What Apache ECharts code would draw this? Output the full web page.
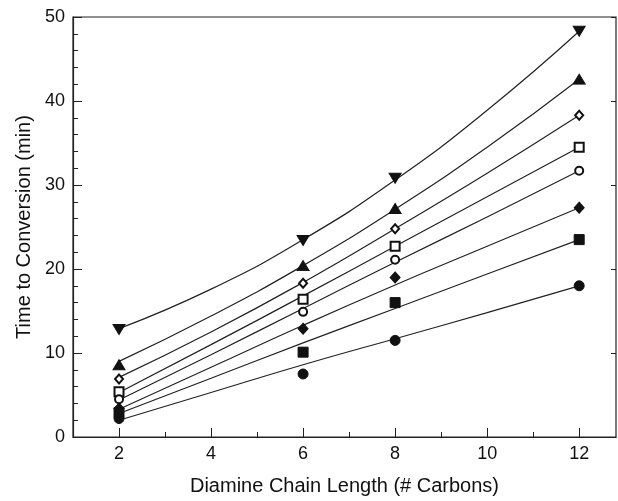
<!DOCTYPE html>
<html>
<head>
<meta charset="utf-8">
<script src="https://cdn.jsdelivr.net/npm/echarts@6/dist/echarts.min.js"></script>
<style>
  html, body { margin: 0; padding: 0; background: #fff; }
  #chart { width: 618px; height: 501px; }
</style>
</head>
<body>
<div id="chart"></div>
<script>
// measured x positions (carbons)
var xPoints = [2, 6, 8, 12];
var xFit = [2, 4, 6, 8, 10, 12];
var xMajor = [2, 4, 6, 8, 10, 12];
var xMinor = [3, 5, 7, 9, 11];

// measured points, top to bottom
var triDown = [12.8, 23.4, 30.8, 48.3];
var triUp = [8.6, 20.4, 27.2, 42.6];
var openDiamond = [6.9, 18.3, 24.8, 38.3];
var openSquare = [5.4, 16.4, 22.7, 34.5];
var openCircle = [4.5, 14.9, 21.1, 31.7];
var fillDiamond = [3.4, 12.9, 19.0, 27.3];
var fillSquare = [2.9, 10.1, 16.0, 23.5];
var fillCircle = [2.2, 7.5, 11.5, 18.0];

// fitted curves at xFit
var fitTriDown = [12.9, 17.6, 23.5, 30.6, 38.9, 48.3];
var fitTriUp = [9.0, 14.4, 20.4, 27.1, 34.5, 42.6];
var fitOpenDiamond = [7.1, 12.5, 18.4, 24.8, 31.4, 38.3];
var fitOpenSquare = [5.3, 11.0, 16.8, 22.7, 28.6, 34.5];
var fitOpenCircle = [4.4, 9.8, 15.3, 20.8, 26.2, 31.7];
var fitFillDiamond = [3.3, 8.3, 13.3, 18.1, 22.7, 27.3];
var fitFillSquare = [2.8, 7.0, 11.2, 15.3, 19.4, 23.5];
var fitFillCircle = [2.0, 5.3, 8.6, 11.7, 14.8, 18.0];

function pairs(xs, ys) {
  return xs.map(function (x, i) { return [x, ys[i]]; });
}

var ink = '#111';
var fits = [fitTriDown, fitTriUp, fitOpenDiamond, fitOpenSquare, fitOpenCircle, fitFillDiamond, fitFillSquare, fitFillCircle];
var marks = [
  { d: triDown, symbol: 'triangle', size: [12, 10], rot: 180 },
  { d: triUp, symbol: 'triangle', size: [12, 10], rot: 0 },
  { d: openDiamond, symbol: 'emptyDiamond', size: [8, 9], rot: 0 },
  { d: openSquare, symbol: 'emptyRect', size: 9, rot: 0 },
  { d: openCircle, symbol: 'emptyCircle', size: 8, rot: 0 },
  { d: fillDiamond, symbol: 'diamond', size: [10, 11], rot: 0 },
  { d: fillSquare, symbol: 'rect', size: 10, rot: 0 },
  { d: fillCircle, symbol: 'circle', size: 10, rot: 0 }
];

var series = [];
fits.forEach(function (f) {
  series.push({
    type: 'line', smooth: 0.5, smoothMonotone: 'none', symbol: 'none', silent: true,
    data: pairs(xFit, f),
    lineStyle: { color: '#222', width: 1.2 }, z: 2
  });
});
marks.forEach(function (m) {
  series.push({
    type: 'scatter', data: pairs(xPoints, m.d),
    symbol: m.symbol, symbolSize: m.size, symbolRotate: m.rot,
    itemStyle: { color: ink, opacity: 1, borderColor: m.symbol.indexOf('empty') === 0 ? '#333' : ink, borderWidth: 1 },
    z: 3
  });
});

var myChart = echarts.init(document.getElementById('chart'));
var option = {
  animation: false,
  backgroundColor: '#fff',
  grid: { left: 73, right: 2, top: 17, bottom: 60, show: true, borderColor: '#222', borderWidth: 1.2 },
  xAxis: [{
    type: 'value', min: 1, max: 12.8, position: 'bottom',
    name: 'Diamine Chain Length (# Carbons)', nameLocation: 'middle', nameGap: 39,
    nameTextStyle: { fontFamily: 'Liberation Sans', fontSize: 20, color: ink },
    axisLine: { show: true, lineStyle: { color: '#222', width: 1.2 } },
    axisTick: { inside: true, length: 9, customValues: xMajor, lineStyle: { color: '#222' } },
    axisLabel: { customValues: xMajor, margin: 8, fontFamily: 'Liberation Sans', fontSize: 18, color: ink },
    splitLine: { show: false }
  }, {
    type: 'value', min: 1, max: 12.8, position: 'bottom', offset: 0,
    axisLine: { show: false },
    axisTick: { inside: true, length: 5, customValues: xMinor, lineStyle: { color: '#222' } },
    axisLabel: { show: false },
    splitLine: { show: false }
  }],
  yAxis: [{
    type: 'value', min: 0, max: 50, interval: 10,
    name: 'Time to Conversion (min)', nameLocation: 'middle', nameGap: 37,
    nameTextStyle: { fontFamily: 'Liberation Sans', fontSize: 20, color: ink },
    axisLine: { show: true, lineStyle: { color: '#222', width: 1.2 } },
    axisTick: { inside: true, length: 9, lineStyle: { color: '#222' } },
    minorTick: { show: true, splitNumber: 5, length: 5, lineStyle: { color: '#222' } },
    axisLabel: { margin: 8, fontFamily: 'Liberation Sans', fontSize: 18, color: ink },
    splitLine: { show: false }
  }, {
    type: 'value', min: 0, max: 50, interval: 10, position: 'right',
    axisLine: { show: false },
    axisTick: { inside: true, length: 5, lineStyle: { color: '#222' } },
    axisLabel: { show: false },
    splitLine: { show: false }
  }],
  series: series
};
myChart.setOption(option);
</script>
</body>
</html>
